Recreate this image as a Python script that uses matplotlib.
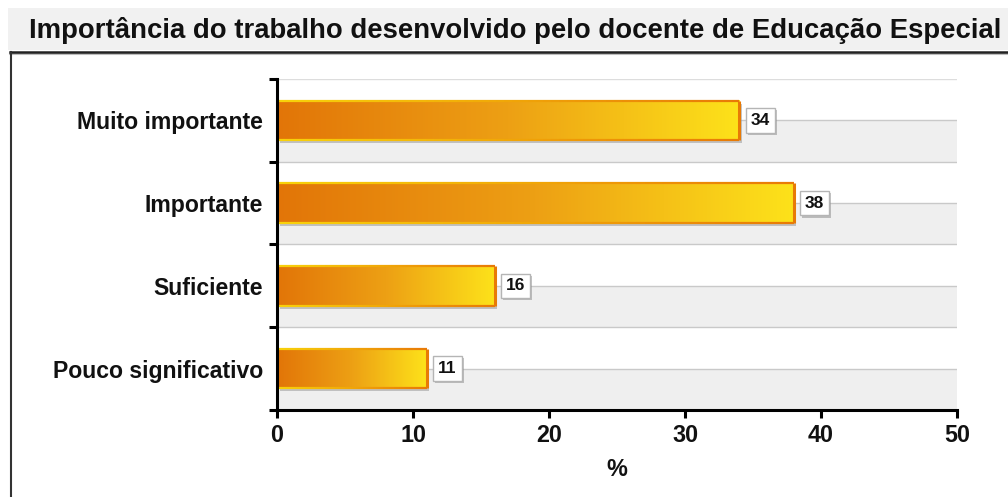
import numpy as np
import matplotlib
matplotlib.use("Agg")
import matplotlib.pyplot as plt
from matplotlib.patches import Rectangle
from matplotlib.collections import LineCollection
from matplotlib.colors import LinearSegmentedColormap, to_rgb
import matplotlib.transforms as mtransforms
import matplotlib.patheffects as pe

plt.rcParams['font.family'] = ['Liberation Sans', 'DejaVu Sans']

title = "Importância do trabalho desenvolvido pelo docente de Educação Especial"
categories = ["Muito importante", "Importante", "Suficiente", "Pouco significativo"]
values = [34, 38, 16, 11]
x_ticks = [0, 10, 20, 30, 40, 50]
x_label = "%"

W, H = 1008, 497
fig = plt.figure(figsize=(W / 100, H / 100), dpi=100)
fig.patch.set_facecolor("white")


def fx(px):
    return px / W


def fy(py):
    return 1 - py / H


# Title band and panel frame
fig.add_artist(Rectangle((fx(8), fy(50)), fx(W - 8), 42 / H, transform=fig.transFigure,
                         facecolor="#f1f1f1", edgecolor="none", zorder=0))
fig.add_artist(plt.Line2D([fx(10), 1], [fy(53.5), fy(53.5)], transform=fig.transFigure,
                          color="#bdbdbd", lw=1.5, zorder=1))
fig.add_artist(plt.Line2D([fx(10), 1], [fy(51.5), fy(51.5)], transform=fig.transFigure,
                          color="#222222", lw=1.8, zorder=2))
fig.add_artist(plt.Line2D([fx(10.5), fx(10.5)], [fy(51.5), 0], transform=fig.transFigure,
                          color="#333333", lw=1.5, zorder=2))
fig.text(fx(515), fy(30), title, ha="center", va="center", fontsize=19.8,
         fontweight="bold", color="#111111")

ax = fig.add_axes([fx(277), fy(410), fx(957 - 277), (410 - 79) / H])
n = len(categories)
ypos = np.arange(n)[::-1]
ax.set_xlim(0, 50)
ax.set_ylim(-0.5, n - 0.5)

# Alternating band background: white upper half, grey lower half
for y in ypos:
    ax.axhspan(y - 0.5, y, color="#efefef", lw=0, zorder=0)
    ax.axhline(y, color="#c9c9c9", lw=1.0, zorder=0.5)
    ax.axhline(y - 0.5, color="#c9c9c9", lw=1.0, zorder=0.5)
ax.axhline(n - 0.5, color="#dddddd", lw=1.0, zorder=0.5)

fill_cmap = LinearSegmentedColormap.from_list("fill", ["#e27508", "#eda014", "#fde21a"])
edge_left = np.array(to_rgb("#f8d20a"))
edge_right = np.array(to_rgb("#e87a06"))
bar_h = 0.48
shadow_tr = mtransforms.offset_copy(ax.transData, fig=fig, x=2.5, y=-3, units="dots")

for y, v in zip(ypos, values):
    y0, y1 = y - bar_h / 2, y + bar_h / 2
    ax.add_patch(Rectangle((0, y0), v, bar_h, transform=shadow_tr,
                           facecolor="#9a9a9a", alpha=0.55, edgecolor="none", zorder=2))
    grad = np.linspace(0, 1, 256).reshape(1, -1)
    ax.imshow(grad, extent=[0, v, y0, y1], aspect="auto", cmap=fill_cmap,
              interpolation="bicubic", zorder=3)
    # outline: yellow on the left fading to orange on the right
    xs = np.linspace(0, v, 60)
    t = np.linspace(0, 1, 59)[:, None]
    cols = edge_left * (1 - t) + edge_right * t
    segs = []
    for yy in (y0, y1):
        segs += [[(xs[i], yy), (xs[i + 1], yy)] for i in range(59)]
    ax.add_collection(LineCollection(segs, colors=np.vstack([cols, cols]), lw=1.6, zorder=4))
    ax.plot([0, 0], [y0, y1], color=edge_left, lw=1.6, zorder=4, solid_capstyle="butt")
    ax.plot([v, v], [y0, y1], color=edge_right, lw=2.2, zorder=4, solid_capstyle="butt")
    txt = ax.annotate(f"{v}", xy=(v, y), xytext=(15, 0), textcoords="offset points",
                      ha="center", va="center", fontsize=12.5, fontweight="bold",
                      color="#111111", zorder=6,
                      bbox=dict(boxstyle="square,pad=0.28", facecolor="white",
                                edgecolor="#b5b5b5", lw=1.0))
    txt.get_bbox_patch().set_path_effects(
        [pe.SimplePatchShadow(offset=(1.5, -1.5), shadow_rgbFace="#888888", alpha=0.5),
         pe.Normal()])

ax.set_facecolor("white")
for s in ("top", "right"):
    ax.spines[s].set_visible(False)
for s in ("left", "bottom"):
    ax.spines[s].set_linewidth(2.2)
    ax.spines[s].set_color("black")
    ax.spines[s].set_zorder(5)

ax.set_yticks(ypos)
ax.set_yticklabels(categories, fontsize=16.6, fontweight="bold", color="#111111")
ax.set_yticks(np.arange(-0.5, n, 1.0), minor=True)
ax.tick_params(axis="y", which="major", length=0, pad=10)
ax.tick_params(axis="y", which="minor", length=6, width=2.2, color="black", direction="out")

ax.set_xticks(x_ticks)
ax.set_xticklabels([str(t) for t in x_ticks], fontsize=16.8, fontweight="bold", color="#111111")
ax.tick_params(axis="x", which="major", length=6, width=2.2, color="black",
               direction="out", pad=4)
ax.set_xlabel(x_label, fontsize=16.8, fontweight="bold", color="#111111", labelpad=8)

fig.savefig("out.png", dpi=100, facecolor="white")
